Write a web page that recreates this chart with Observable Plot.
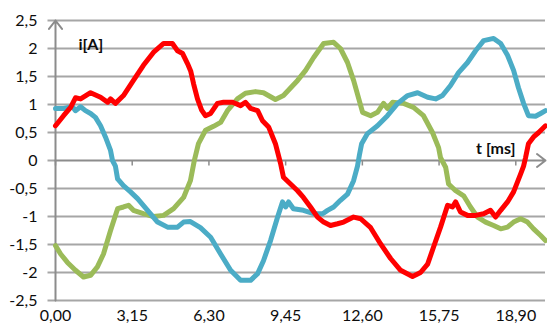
<!DOCTYPE html>
<html><head><meta charset="utf-8">
<script src="https://cdn.jsdelivr.net/npm/d3@7"></script>
<script src="https://cdn.jsdelivr.net/npm/@observablehq/plot@0.6"></script>
<style>
body{margin:0;background:#fff;}
#chart svg text{fill:#0d0d0d;}
</style></head><body><div id="chart"></div>
<script>
// axis ticks
const yTicks = [-2.5, -2, -1.5, -1, -0.5, 0, 0.5, 1, 1.5, 2, 2.5];
const xTicks = [0, 3.15, 6.3, 9.45, 12.6, 15.75, 18.9];
const xDomain = [0, 20.12];
const yDomain = [-2.5, 2.5];
const yLabel = "i[A]";
const xLabel = "t [ms]";

// red series
const tRed = [0, 0.33, 0.62, 0.82, 1.03, 1.44, 1.85, 2.14, 2.26, 2.46, 2.79, 3.2, 3.61, 4.02, 4.44, 4.8, 5.01, 5.22, 5.42, 5.55, 5.67, 5.83, 6.0, 6.16, 6.37, 6.65, 6.9, 7.27, 7.6, 7.8, 8.01, 8.3, 8.5, 8.75, 9.03, 9.24, 9.36, 9.65, 9.94, 10.18, 10.47, 10.76, 11.01, 11.29, 11.58, 11.83, 12.24, 12.53, 12.94, 13.35, 13.76, 14.17, 14.66, 14.99, 15.28, 15.52, 15.81, 16.1, 16.3, 16.43, 16.63, 16.92, 17.25, 17.58, 17.86, 18.07, 18.28, 18.56, 18.81, 19.1, 19.22, 19.3, 19.42, 19.63, 19.84, 20.12];
const iRed = [0.62, 0.8, 0.95, 1.12, 1.1, 1.21, 1.13, 1.04, 1.1, 1.02, 1.16, 1.43, 1.7, 1.93, 2.09, 2.09, 1.96, 1.91, 1.73, 1.6, 1.37, 1.1, 0.9, 0.8, 0.84, 1.02, 1.04, 1.04, 0.98, 1.04, 0.93, 0.89, 0.71, 0.6, 0.3, -0.05, -0.3, -0.42, -0.54, -0.66, -0.83, -1.01, -1.1, -1.16, -1.13, -1.1, -1.01, -1.04, -1.2, -1.49, -1.75, -1.96, -2.07, -2.0, -1.85, -1.55, -1.19, -0.8, -0.83, -0.74, -0.92, -0.98, -0.98, -0.95, -0.89, -1.01, -0.89, -0.74, -0.56, -0.24, -0.1, 0.05, 0.3, 0.42, 0.5, 0.62];

// blue series
const tBlue = [0, 0.33, 0.7, 0.82, 1.03, 1.23, 1.44, 1.64, 1.85, 2.05, 2.26, 2.34, 2.46, 2.55, 2.79, 3.08, 3.37, 3.78, 4.19, 4.6, 5.01, 5.26, 5.54, 5.95, 6.37, 6.78, 7.19, 7.6, 8.01, 8.3, 8.54, 8.83, 9.12, 9.32, 9.45, 9.57, 9.77, 10.18, 10.6, 10.97, 11.17, 11.42, 11.7, 11.99, 12.24, 12.4, 12.48, 12.57, 12.81, 13.22, 13.63, 14.05, 14.46, 14.87, 15.28, 15.61, 15.89, 16.22, 16.55, 16.92, 17.25, 17.58, 17.99, 18.28, 18.56, 18.81, 19.01, 19.22, 19.42, 19.71, 19.92, 20.12];
const iBlue = [0.93, 0.93, 0.96, 0.89, 0.96, 0.89, 0.84, 0.77, 0.62, 0.42, 0.18, 0.0, -0.1, -0.33, -0.45, -0.56, -0.68, -0.89, -1.1, -1.19, -1.19, -1.1, -1.09, -1.2, -1.37, -1.67, -1.96, -2.14, -2.14, -2.02, -1.79, -1.43, -1.01, -0.74, -0.83, -0.74, -0.86, -0.89, -0.95, -0.95, -0.89, -0.83, -0.71, -0.6, -0.36, -0.1, 0.1, 0.3, 0.48, 0.62, 0.8, 1.02, 1.16, 1.21, 1.13, 1.1, 1.16, 1.34, 1.57, 1.75, 1.96, 2.14, 2.18, 2.09, 1.88, 1.61, 1.3, 1.02, 0.8, 0.79, 0.84, 0.89];

// green series
const tGreen = [0, 0.21, 0.49, 0.82, 1.15, 1.44, 1.72, 1.97, 2.26, 2.55, 2.79, 3.0, 3.2, 3.61, 4.02, 4.44, 4.85, 5.26, 5.54, 5.7, 5.87, 6.16, 6.49, 6.78, 7.06, 7.47, 7.8, 8.21, 8.54, 9.03, 9.36, 9.94, 10.27, 10.6, 11.01, 11.42, 11.7, 11.99, 12.24, 12.61, 12.94, 13.22, 13.47, 13.63, 13.84, 14.29, 14.7, 15.11, 15.48, 15.73, 15.81, 16.02, 16.14, 16.43, 16.76, 17.04, 17.33, 17.66, 17.99, 18.28, 18.56, 18.81, 19.1, 19.38, 19.63, 19.92, 20.12];
const iGreen = [-1.52, -1.67, -1.82, -1.96, -2.08, -2.05, -1.9, -1.67, -1.25, -0.86, -0.83, -0.8, -0.89, -0.95, -1.0, -0.98, -0.86, -0.66, -0.36, 0.0, 0.3, 0.54, 0.61, 0.68, 0.89, 1.1, 1.2, 1.23, 1.21, 1.09, 1.16, 1.43, 1.61, 1.84, 2.09, 2.11, 2.0, 1.75, 1.43, 0.86, 0.8, 0.86, 1.02, 0.93, 1.04, 1.02, 0.95, 0.8, 0.5, 0.23, 0.05, -0.12, -0.42, -0.54, -0.63, -0.83, -1.01, -1.1, -1.16, -1.22, -1.19, -1.1, -1.04, -1.1, -1.22, -1.34, -1.43];

const rows = (ts, is) => ts.map((t, k) => ({t, i: is[k]}));
const red = rows(tRed, iRed), blue = rows(tBlue, iBlue), green = rows(tGreen, iGreen);

const gridColor = "#a6a6a6";
const axisColor = "#8c8c8c";
const comma = d => String(d).replace(".", ",");
const tickLeft = {draw(ctx) { ctx.moveTo(-8, 0); ctx.lineTo(0, 0); }};
const tickDown = {draw(ctx) { ctx.moveTo(0, 0); ctx.lineTo(0, 5); }};

const lineOpts = {x: "t", y: "i", strokeWidth: 5, strokeLinejoin: "round", strokeLinecap: "round"};

const chart = Plot.plot({
  width: 547, height: 325,
  marginLeft: 55, marginRight: 2, marginTop: 20, marginBottom: 25,
  style: {fontFamily: "Lato, 'Open Sans', sans-serif", fontSize: "16px", background: "#fff", overflow: "visible"},
  x: {domain: xDomain, ticks: xTicks, tickFormat: d => d.toFixed(2).replace(".", ","), tickSize: 0, tickPadding: 9, label: null},
  y: {domain: yDomain, ticks: yTicks, tickFormat: comma, tickSize: 0, tickPadding: 18, label: null},
  marks: [
    Plot.ruleY(yTicks.filter(d => d !== 0), {stroke: gridColor, strokeWidth: 2}),
    Plot.dot(yTicks, {x: xDomain[0], y: d => d, symbol: tickLeft, stroke: gridColor, fill: "none", strokeWidth: 2}),
    Plot.dot(xTicks, {x: d => d, y: 0, symbol: tickDown, stroke: axisColor, fill: "none", strokeWidth: 1.5}),
    Plot.arrow([{x1: xDomain[0], y1: yDomain[0], x2: xDomain[0], y2: yDomain[1]}], {x1: "x1", y1: "y1", x2: "x2", y2: "y2", stroke: axisColor, strokeWidth: 2, headLength: 8, headAngle: 75}),
    Plot.arrow([{x1: xDomain[0], y1: 0, x2: xDomain[1], y2: 0}], {x1: "x1", y1: "y1", x2: "x2", y2: "y2", stroke: axisColor, strokeWidth: 2, headLength: 8, headAngle: 75}),
    Plot.line(green, {...lineOpts, stroke: "#9bbb59"}),
    Plot.line(blue, {...lineOpts, stroke: "#4bacc6"}),
    Plot.line(red, {...lineOpts, stroke: "#ff0000"}),
    Plot.text([yLabel], {text: d => d, frameAnchor: "top-left", textAnchor: "start", dx: 23, dy: 18, fontWeight: "bold", fontSize: 16}),
    Plot.text([xLabel], {text: d => d, frameAnchor: "right", textAnchor: "end", dx: -30, dy: -12, fontWeight: "bold", fontSize: 16})
  ]
});
document.getElementById("chart").appendChild(chart);
</script>
</body></html>
